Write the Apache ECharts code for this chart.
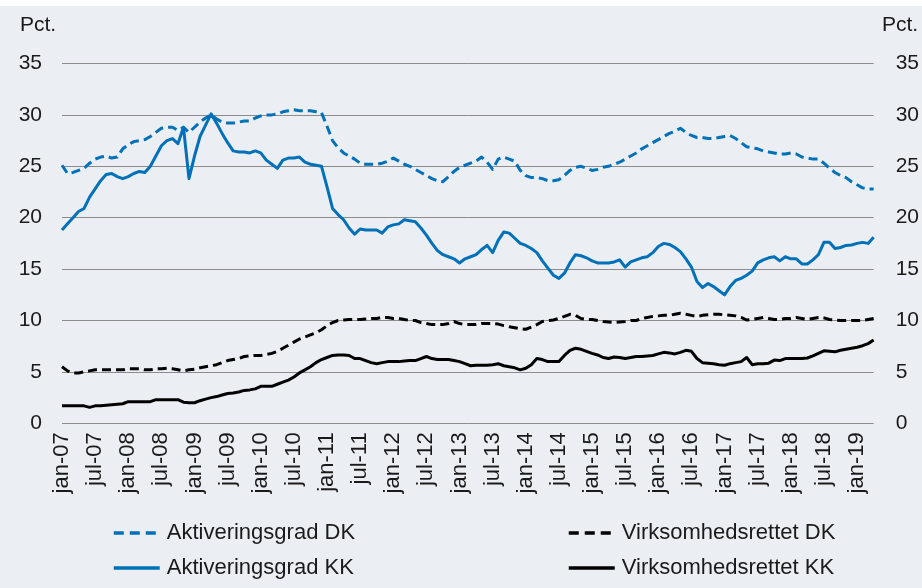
<!DOCTYPE html>
<html>
<head>
<meta charset="utf-8">
<script src="https://cdn.jsdelivr.net/npm/echarts@6/dist/echarts.min.js"></script>
<style>
html,body{margin:0;padding:0;background:#ffffff;}
#c{width:922px;height:588px;}
</style>
</head>
<body>
<div id="c"></div>
<script>
// Data (monthly, jan-07 .. apr-19)
var monthNames = ['jan','feb','mar','apr','maj','jun','jul','aug','sep','okt','nov','dec'];
var startYear = 2007;
var nMonths = 148;

var aktiveringsgradDK = [
25.1,24.3,24.4,24.6,24.8,25.3,25.7,25.9,26.0,25.8,
25.9,26.7,27.1,27.4,27.5,27.6,27.9,28.3,28.7,28.8,
28.8,28.5,28.8,28.3,28.8,29.3,29.7,30.0,29.6,29.3,
29.2,29.2,29.3,29.4,29.4,29.7,29.9,30.0,30.0,30.1,
30.3,30.4,30.5,30.4,30.4,30.4,30.3,30.2,28.9,27.5,
26.8,26.3,26.0,25.7,25.3,25.2,25.2,25.2,25.3,25.5,
25.8,25.5,25.2,25.0,24.7,24.4,24.1,23.8,23.6,23.5,
24.0,24.5,24.9,25.1,25.3,25.5,25.9,25.4,24.7,25.7,
25.9,25.7,25.5,24.6,24.1,23.9,23.9,23.8,23.6,23.6,
23.7,24.1,24.6,24.9,25.0,24.8,24.6,24.7,24.9,25.0,
25.2,25.4,25.7,26.0,26.3,26.7,27.0,27.3,27.6,27.9,
28.2,28.4,28.7,28.3,28.0,27.8,27.8,27.7,27.7,27.8,
27.9,28.0,27.7,27.3,26.9,26.8,26.7,26.5,26.4,26.3,
26.2,26.2,26.3,26.2,25.9,25.8,25.7,25.7,25.3,24.8,
24.4,24.1,23.9,23.5,23.2,22.9,22.8,22.8
];

var aktiveringsgradKK = [
18.8,19.4,20.0,20.6,20.9,22.0,22.8,23.6,24.2,24.3,
24.0,23.8,24.0,24.3,24.5,24.4,25.0,26.0,27.0,27.5,
27.7,27.2,28.8,23.8,26.0,27.9,29.0,30.1,29.2,28.2,
27.3,26.5,26.4,26.4,26.3,26.5,26.3,25.6,25.2,24.8,
25.6,25.8,25.8,25.9,25.4,25.2,25.1,25.0,23.0,20.9,
20.3,19.8,19.0,18.4,18.9,18.8,18.8,18.8,18.5,19.1,
19.3,19.4,19.8,19.7,19.6,19.0,18.3,17.5,16.8,16.4,
16.2,16.0,15.6,16.0,16.2,16.4,16.9,17.3,16.6,17.8,
18.6,18.5,18.0,17.5,17.3,17.0,16.6,15.8,15.1,14.4,
14.1,14.6,15.6,16.4,16.3,16.1,15.8,15.6,15.6,15.6,
15.7,15.9,15.2,15.7,15.9,16.1,16.2,16.6,17.2,17.5,
17.4,17.1,16.7,16.0,15.2,13.8,13.2,13.6,13.3,12.9,
12.5,13.3,13.9,14.1,14.4,14.8,15.6,15.9,16.1,16.2,
15.8,16.2,16.0,16.0,15.5,15.5,15.9,16.4,17.6,17.6,
17.0,17.1,17.3,17.35,17.5,17.6,17.5,18.1
];

var virksomhedsrettetDK = [
5.5,5.1,4.9,4.9,5.0,5.1,5.2,5.2,5.2,5.2,
5.2,5.2,5.3,5.3,5.3,5.2,5.2,5.3,5.3,5.35,
5.3,5.2,5.1,5.2,5.25,5.4,5.5,5.6,5.7,5.9,
6.1,6.2,6.3,6.5,6.55,6.6,6.6,6.7,6.8,7.0,
7.3,7.6,7.9,8.2,8.4,8.6,8.8,9.1,9.5,9.8,
10.0,10.05,10.1,10.1,10.1,10.15,10.2,10.2,10.3,10.3,
10.2,10.2,10.1,10.0,10.0,9.8,9.7,9.6,9.6,9.6,
9.7,9.9,9.7,9.6,9.6,9.6,9.7,9.7,9.7,9.65,
9.5,9.4,9.3,9.2,9.15,9.35,9.6,9.9,10.0,10.05,
10.2,10.4,10.6,10.5,10.2,10.1,10.1,10.0,9.9,9.85,
9.8,9.85,9.9,10.0,10.0,10.2,10.3,10.4,10.45,10.5,
10.5,10.6,10.7,10.6,10.5,10.4,10.5,10.55,10.6,10.6,
10.55,10.5,10.45,10.3,10.05,10.1,10.2,10.3,10.2,10.1,
10.1,10.2,10.2,10.3,10.2,10.1,10.2,10.3,10.25,10.1,
10.05,10.0,10.0,10.0,10.0,10.0,10.1,10.2
];

var virksomhedsrettetKK = [
1.7,1.7,1.7,1.7,1.7,1.55,1.7,1.7,1.75,1.8,
1.85,1.9,2.1,2.1,2.1,2.1,2.1,2.3,2.3,2.3,
2.3,2.3,2.05,2.0,2.0,2.2,2.35,2.5,2.6,2.75,
2.9,2.95,3.05,3.2,3.25,3.35,3.6,3.6,3.6,3.8,
4.0,4.2,4.5,4.9,5.2,5.5,5.9,6.2,6.4,6.6,
6.65,6.65,6.6,6.3,6.3,6.1,5.9,5.8,5.9,6.0,
6.0,6.0,6.05,6.1,6.1,6.3,6.5,6.3,6.2,6.2,
6.2,6.1,6.0,5.8,5.6,5.65,5.65,5.65,5.7,5.8,
5.6,5.5,5.4,5.2,5.35,5.7,6.3,6.2,6.0,6.0,
6.0,6.6,7.1,7.3,7.2,7.0,6.8,6.65,6.4,6.3,
6.45,6.4,6.3,6.4,6.5,6.5,6.55,6.6,6.75,6.9,
6.85,6.75,6.9,7.1,7.0,6.3,5.9,5.85,5.8,5.7,
5.65,5.8,5.9,6.0,6.4,5.7,5.8,5.8,5.85,6.15,
6.1,6.3,6.3,6.3,6.3,6.35,6.55,6.8,7.05,7.0,
6.95,7.1,7.2,7.3,7.4,7.55,7.75,8.1
];

var seriesNames = ['Aktiveringsgrad DK','Aktiveringsgrad KK','Virksomhedsrettet DK','Virksomhedsrettet KK'];
var yTicks = [0,5,10,15,20,25,30,35];

var categories = [];
for (var i = 0; i < nMonths; i++) {
  var y = startYear + Math.floor(i / 12);
  var m = i % 12;
  categories.push(monthNames[m] + '-' + String(y).slice(2));
}

var BLUE = '#0070b8';
var BLACK = '#000000';
var FONT = '"Liberation Sans", Arial, sans-serif';
var TXT = '#1a1a1a';

var chart = echarts.init(document.getElementById('c'), null, {renderer: 'canvas'});

function mkSeries(name, data, color, dashed, yIdx) {
  return {
    name: name, type: 'line', data: data, yAxisIndex: yIdx,
    symbol: 'none', showSymbol: false, smooth: false,
    lineStyle: {color: color, width: 3, type: dashed ? [9, 5] : 'solid', cap: 'butt', join: 'round'},
    itemStyle: {color: color},
    emphasis: {disabled: true},
    animation: false
  };
}

function mkLegend(names, left) {
  return {
    data: [
      {name: names[0], lineStyle: {type: [10, 6], width: 3.5}},
      {name: names[1], lineStyle: {type: 'solid', width: 3.5}}
    ],
    left: left, top: 517, orient: 'vertical', itemGap: 13,
    itemWidth: 46, itemHeight: 14, itemStyle: {opacity: 0},
    textStyle: {fontFamily: FONT, fontSize: 22, color: TXT, padding: [0,0,0,2]}
  };
}

chart.setOption({
  backgroundColor: '#ebeff3',
  animation: false,
  graphic: [
    {type: 'rect', left: 0, top: 0, shape: {width: 922, height: 6}, style: {fill: '#ffffff'}},
    {type: 'text', left: 20, top: 15, style: {text: 'Pct.', font: '21px ' + FONT, fill: TXT}},
    {type: 'text', left: 882, top: 15, style: {text: 'Pct.', font: '21px ' + FONT, fill: TXT}}
  ],
  grid: {left: 62, right: 48, top: 63.5, bottom: 164.7, containLabel: false},
  legend: [mkLegend([seriesNames[0], seriesNames[1]], 107), mkLegend([seriesNames[2], seriesNames[3]], 562)],
  xAxis: {
    type: 'category', data: categories, boundaryGap: false,
    axisLine: {show: false}, axisTick: {show: false},
    axisLabel: {interval: 5, rotate: 90, fontFamily: FONT, fontSize: 22, color: TXT, margin: 9},
    splitLine: {show: false}
  },
  yAxis: [
    {type: 'value', min: 0, max: 35, interval: 5, position: 'left',
     axisLine: {show: false}, axisTick: {show: false},
     axisLabel: {fontFamily: FONT, fontSize: 21, color: TXT, margin: 20},
     splitLine: {show: true, lineStyle: {color: '#8c8c8c', width: 1}}},
    {type: 'value', min: 0, max: 35, interval: 5, position: 'right',
     axisLine: {show: false}, axisTick: {show: false},
     axisLabel: {fontFamily: FONT, fontSize: 21, color: TXT, margin: 22, align: 'left'},
     splitLine: {show: false}}
  ],
  series: [
    mkSeries(seriesNames[0], aktiveringsgradDK, BLUE, true, 0),
    mkSeries(seriesNames[1], aktiveringsgradKK, BLUE, false, 0),
    mkSeries(seriesNames[2], virksomhedsrettetDK, BLACK, true, 0),
    mkSeries(seriesNames[3], virksomhedsrettetKK, BLACK, false, 0)
  ]
});
</script>
</body>
</html>
